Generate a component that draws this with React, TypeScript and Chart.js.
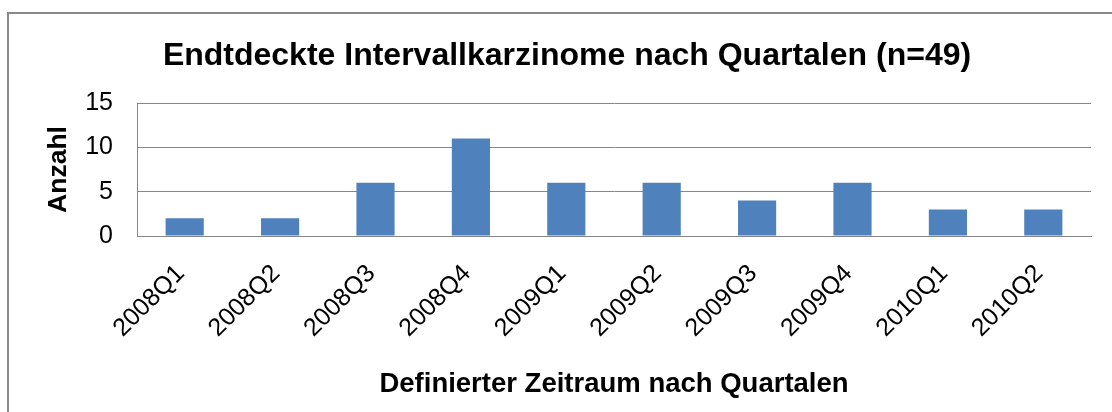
import React, { useEffect, useRef } from "react";
import { Chart, registerables } from "chart.js";

Chart.register(...registerables);

const categories = ["2008Q1", "2008Q2", "2008Q3", "2008Q4", "2009Q1", "2009Q2", "2009Q3", "2009Q4", "2010Q1", "2010Q2"];
const counts = [2, 2, 6, 11, 6, 6, 4, 6, 3, 3];
const yTicks = [0, 5, 10, 15];
const titleText = "Endtdeckte Intervallkarzinome nach Quartalen (n=49)";
const xTitle = "Definierter Zeitraum nach Quartalen";
const yTitle = "Anzahl";

const FONT = "'Liberation Sans', Arial, sans-serif";
const GRID = "#868686";
const BAR = "#4F81BD";

export default function App() {
  const ref = useRef<HTMLCanvasElement | null>(null);

  useEffect(() => {
    if (!ref.current) return;
    const chart = new Chart(ref.current, {
      type: "bar",
      data: {
        labels: categories,
        datasets: [
          {
            data: counts,
            backgroundColor: BAR,
            borderWidth: 0,
            barPercentage: 0.4,
            categoryPercentage: 1,
          },
        ],
      },
      options: {
        animation: false,
        responsive: false,
        devicePixelRatio: 1,
        layout: { padding: { left: 43, right: 21, top: 37, bottom: 0 } },
        plugins: {
          legend: { display: false },
          tooltip: { enabled: false },
          title: {
            display: true,
            text: titleText,
            color: "#000",
            font: { family: FONT, size: 32, weight: "bold", lineHeight: 1.2 },
            padding: { top: 0, bottom: 27.6 },
          },
        },
        scales: {
          x: {
            grid: { display: false, drawTicks: false },
            border: { display: true, color: GRID, width: 1 },
            ticks: {
              autoSkip: false,
              maxRotation: 45,
              minRotation: 45,
              padding: 23,
              labelOffset: -4,
              color: "#000",
              font: { family: FONT, size: 25, lineHeight: 1.2 },
            },
            title: {
              display: true,
              text: xTitle,
              color: "#000",
              font: { family: FONT, size: 27.5, weight: "bold", lineHeight: 1.2 },
              padding: { top: 0, bottom: 11.5 },
            },
            afterFit: (scale: any) => {
              scale.height = 176;
            },
          },
          y: {
            min: 0,
            max: 15,
            afterBuildTicks: (scale: any) => {
              scale.ticks = yTicks.map((v) => ({ value: v }));
            },
            grid: { color: GRID, lineWidth: 1, drawTicks: false },
            border: { display: true, color: GRID, width: 1 },
            ticks: {
              padding: 24,
              color: "#000",
              font: { family: FONT, size: 25, lineHeight: 1.2 },
            },
            title: {
              display: true,
              text: yTitle,
              color: "#000",
              font: { family: FONT, size: 26.5, weight: "bold", lineHeight: 1.2 },
              padding: { top: 0, bottom: 0 },
            },
            afterFit: (scale: any) => {
              scale.width = 94;
            },
          },
        },
      },
    });
    return () => chart.destroy();
  }, []);

  return (
    <div style={{ position: "fixed", left: 0, top: 0, width: 1112, height: 412, background: "#fff", overflow: "hidden" }}>
      <canvas ref={ref} width={1112} height={412} style={{ position: "absolute", left: 0, top: 0, width: 1112, height: 412 }} />
      <div
        style={{
          position: "absolute",
          left: 7,
          top: 12,
          width: 1130,
          height: 430,
          border: "2px solid #898989",
          boxSizing: "border-box",
          pointerEvents: "none",
        }}
      />
    </div>
  );
}
